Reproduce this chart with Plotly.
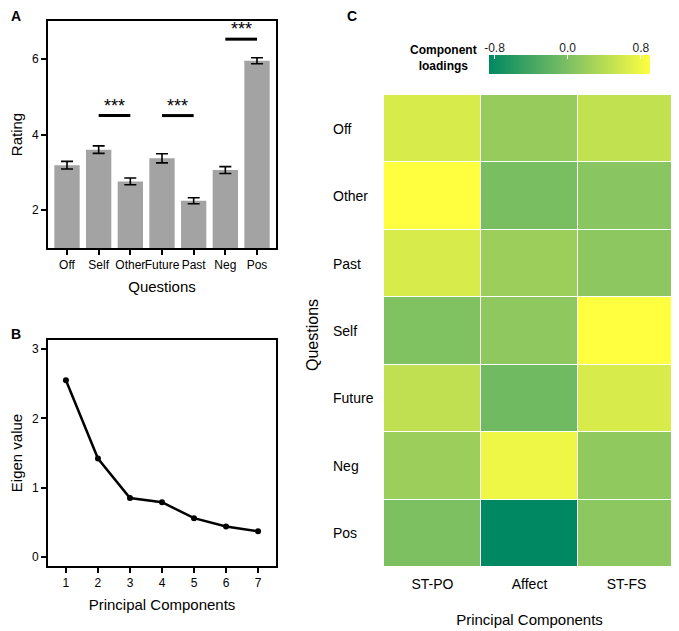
import numpy as np
import plotly.graph_objects as go

# ---------------- data ----------------
questions_a = ["Off", "Self", "Other", "Future", "Past", "Neg", "Pos"]
ratings = [3.19, 3.60, 2.76, 3.37, 2.25, 3.06, 5.95]
rating_err = [0.10, 0.10, 0.09, 0.12, 0.08, 0.09, 0.08]

sig_pairs = [("Self", "Other"), ("Future", "Past"), ("Neg", "Pos")]
sig_levels = [4.5, 4.5, 6.52]
sig_star_levels = [4.76, 4.76, 6.78]
sig_labels = ["***", "***", "***"]

components = [1, 2, 3, 4, 5, 6, 7]
eigenvalues = [2.55, 1.42, 0.85, 0.79, 0.56, 0.44, 0.37]

pc_names = ["ST-PO", "Affect", "ST-FS"]
questions_c = ["Off", "Other", "Past", "Self", "Future", "Neg", "Pos"]
loadings = [
    [0.62, 0.18, 0.48],
    [0.90, -0.02, 0.08],
    [0.62, 0.21, 0.11],
    [0.02, 0.12, 0.90],
    [0.46, -0.09, 0.62],
    [0.21, 0.78, 0.13],
    [0.00, -0.86, 0.11],
]
z_min, z_max = -0.86, 0.90
cbar_ticks = [-0.8, 0.0, 0.8]

FONT = "Arial, Liberation Sans, sans-serif"
OFF = 8  # page body margin
W, H = 679 - OFF, 631 - OFF

def px_x(p):
    return (p - OFF) / W

def px_y(p):
    return 1 - (p - OFF) / H

colorscale = [[0.0, "rgb(0,136,98)"], [0.5, "rgb(128,193,98)"], [1.0, "rgb(255,255,64)"]]

fig = go.Figure()

# ---------- Panel A ----------
fig.add_trace(go.Bar(
    x=questions_a, y=ratings, marker=dict(color="#a3a3a3", line=dict(width=0)),
    error_y=dict(type="data", array=rating_err, color="black", thickness=1.6, width=6),
    xaxis="x", yaxis="y", showlegend=False, width=0.8,
))
for (a, b), lvl, slvl, lab in zip(sig_pairs, sig_levels, sig_star_levels, sig_labels):
    fig.add_trace(go.Scatter(x=[a, b], y=[lvl, lvl], mode="lines",
                             line=dict(color="black", width=3), xaxis="x", yaxis="y",
                             showlegend=False, hoverinfo="skip"))
    fig.add_annotation(x=questions_a.index(a) + 0.5, y=slvl, xref="x", yref="y",
                       text=lab, showarrow=False, xanchor="center", yanchor="middle",
                       font=dict(family=FONT, size=18, color="black"))

# ---------- Panel B ----------
fig.add_trace(go.Scatter(x=components, y=eigenvalues, mode="lines+markers",
                         line=dict(color="black", width=2.5), marker=dict(color="black", size=6),
                         xaxis="x2", yaxis="y2", showlegend=False))

# ---------- Panel C ----------
fig.add_trace(go.Heatmap(z=loadings, x=pc_names, y=questions_c, colorscale=colorscale,
                         zmin=z_min, zmax=z_max, showscale=False, xgap=1, ygap=1,
                         xaxis="x3", yaxis="y3"))
# gradient strip used as the colour key
strip = np.linspace(z_min, z_max, 200)
fig.add_trace(go.Heatmap(z=[strip], x=strip, y=[0], colorscale=colorscale,
                         zmin=z_min, zmax=z_max, showscale=False,
                         xaxis="x4", yaxis="y4", hoverinfo="skip"))

for q in questions_c:
    fig.add_annotation(x=px_x(331), y=q, xref="paper", yref="y3", text=q, showarrow=False,
                       xanchor="left", yanchor="middle",
                       font=dict(family=FONT, size=14, color="black"))

axis_common = dict(showline=True, linecolor="black", linewidth=2, mirror=True,
                   ticks="outside", ticklen=5, tickwidth=1.5, tickcolor="black",
                   showgrid=False, zeroline=False, automargin=False,
                   tickfont=dict(family=FONT, size=12, color="black"))

fig.update_layout(
    width=W, height=H, margin=dict(l=0, r=0, t=0, b=0),
    plot_bgcolor="white", paper_bgcolor="white",
    font=dict(family=FONT, color="black"),
    xaxis=dict(axis_common, domain=[px_x(48), px_x(276)], anchor="y",
               range=[-0.6, 6.6], tickangle=0, tickfont=dict(family=FONT, size=12),
               title=dict(text="Questions", font=dict(family=FONT, size=15), standoff=10)),
    yaxis=dict(axis_common, domain=[px_y(248), px_y(21)], anchor="x",
               range=[1, 7], tickvals=[2, 4, 6],
               title=dict(text="Rating", font=dict(family=FONT, size=15), standoff=10)),
    xaxis2=dict(axis_common, domain=[px_x(48), px_x(276)], anchor="y2",
                range=[0.44, 7.56], tickvals=components, tickangle=0,
                title=dict(text="Principal Components", font=dict(family=FONT, size=15), standoff=10)),
    yaxis2=dict(axis_common, domain=[px_y(566), px_y(340)], anchor="x2",
                range=[-0.13, 3.13], tickvals=[0, 1, 2, 3],
                title=dict(text="Eigen value", font=dict(family=FONT, size=15), standoff=10)),
    xaxis3=dict(domain=[px_x(384), px_x(675)], anchor="y3", showline=False,
                ticks="outside", ticklen=4, tickcolor="rgba(0,0,0,0)",
                showgrid=False, zeroline=False, automargin=False, tickangle=0,
                tickfont=dict(family=FONT, size=14, color="black"),
                title=dict(text="Principal Components", font=dict(family=FONT, size=15), standoff=23)),
    yaxis3=dict(domain=[px_y(567), px_y(95)], anchor="x3", autorange="reversed",
                showticklabels=False, ticks="", showgrid=False, zeroline=False, automargin=False),
    xaxis4=dict(domain=[px_x(489), px_x(650)], anchor="y4", side="top",
                range=[z_min, z_max], tickvals=cbar_ticks, ticktext=[f"{v:.1f}" for v in cbar_ticks],
                ticks="inside", ticklen=4, tickcolor="white", tickwidth=1, tickangle=0,
                showgrid=False, zeroline=False, showline=False, automargin=False,
                tickfont=dict(family=FONT, size=12, color="#222")),
    yaxis4=dict(domain=[px_y(74), px_y(55)], anchor="x4", showticklabels=False, automargin=False,
                ticks="", showgrid=False, zeroline=False, range=[-0.5, 0.5]),
)

fig.add_annotation(x=px_x(312), y=px_y(335), xref="paper", yref="paper", text="Questions",
                   textangle=-90, showarrow=False, xanchor="center", yanchor="middle",
                   font=dict(family=FONT, size=16, color="black"))

fig.add_annotation(x=px_x(444), y=px_y(58), xref="paper", yref="paper",
                   text="<b>Component</b><br><b>loadings</b>", showarrow=False,
                   align="center", xanchor="center", yanchor="middle",
                   font=dict(family=FONT, size=12, color="black"))

for lab, x, y in [("A", 16, 16), ("B", 16, 334), ("C", 352, 16)]:
    fig.add_annotation(x=px_x(x), y=px_y(y), xref="paper", yref="paper", text=f"<b>{lab}</b>",
                       showarrow=False, xanchor="center", yanchor="middle", borderpad=0,
                       font=dict(family=FONT, size=14, color="black"))

fig.write_html("out.html")
